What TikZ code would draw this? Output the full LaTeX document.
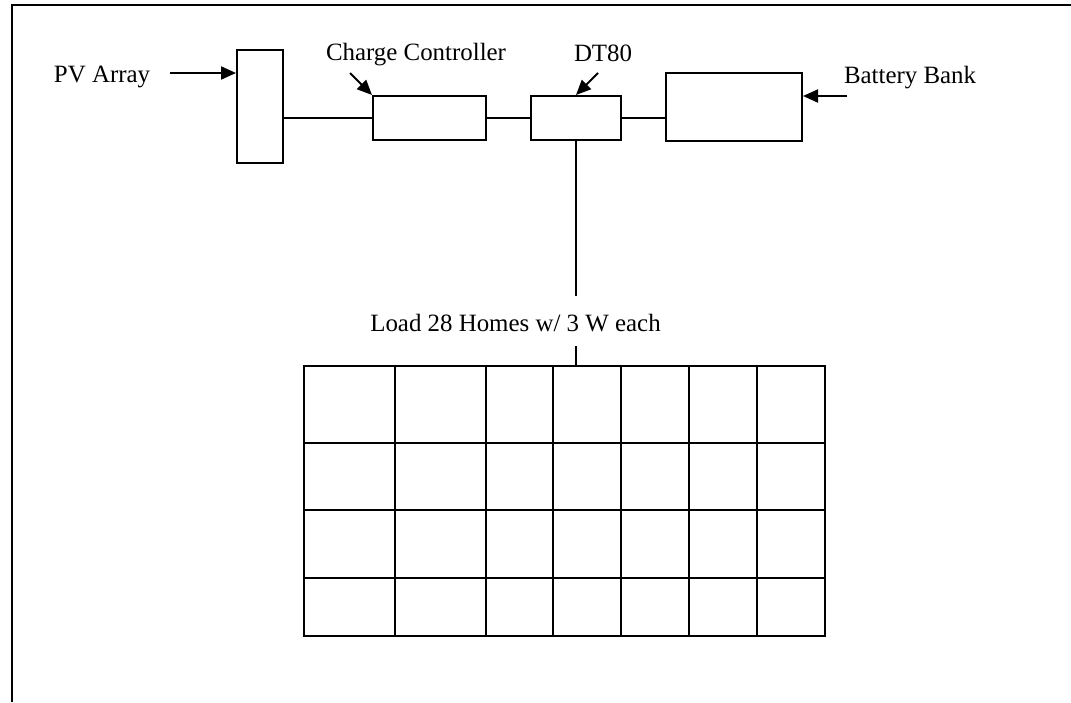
\documentclass[tikz,border=0pt]{standalone}
\usepackage{fontspec}
\setmainfont{Liberation Serif}
\usetikzlibrary{arrows.meta}
\begin{document}
\begin{tikzpicture}[x=0.5pt,y=-0.5pt,line width=1pt,
  blk/.style={draw,inner sep=0pt,minimum width=#1},
  lbl/.style={font=\fontsize{12.45}{14}\selectfont,inner sep=0pt,anchor=base west},
  arr/.style={-{Triangle[length=7.5pt,width=6.5pt]}}]
\useasboundingbox (0,0) rectangle (1071,702);
% border (top and left, cut off)
\coordinate (bl) at (12,702);
\coordinate (tl) at (12,5);
\coordinate (tr) at (1071,5);
\draw (bl) -- (tl) -- (tr);
% blocks
\node[blk=23pt,minimum height=56.5pt] (pv) at (260,106.5) {};
\node[blk=56.5pt,minimum height=22pt] (cc) at (429.5,118) {};
\node[blk=45pt,minimum height=22pt] (dt) at (576,118) {};
\node[blk=68pt,minimum height=34pt] (bat) at (734,107) {};
% labels
\node[lbl] (pvl) at (53,82) {PV Array};
\node[lbl] (ccl) at (325,60) {Charge Controller};
\node[lbl] (dtl) at (573,61) {DT80};
\node[lbl] (batl) at (843,83) {Battery Bank};
\node[lbl,anchor=base,text height=10pt,text depth=0pt,inner ysep=7pt] (load) at (515.5,331) {Load 28 Homes w/ 3 W each};
% arrows
\coordinate (pva) at (170,73);
\coordinate (cca) at (350,73);
\coordinate (dta) at (598,73);
\coordinate (bata) at (847,96);
\draw[arr] (pva) -- (pva -| pv.west);
\draw[arr] (cca) -- (cc.north west);
\draw[arr] (dta) -- (dt.north);
\draw[arr] (bata) -- (bata -| bat.east);
% connections
\draw (cc.west) -- (cc.west -| pv.east);
\draw (cc.east) -- (cc.east -| dt.west);
\draw (dt.east) -- (dt.east -| bat.west);
% grid of homes
\node[draw,inner sep=0pt,minimum width=260.5pt,minimum height=135pt] (grid) at (564.5,501) {};
\draw (dt.south) -- (dt.south |- load.north);
\draw (load.south -| dt.south) -- (grid.north -| dt.south);
\foreach \x in {395,486,553,621,689,757} \draw (\x,366) -- (\x,636);
\foreach \y in {443,510,578} \draw (304,\y) -- (825,\y);
\end{tikzpicture}
\end{document}
